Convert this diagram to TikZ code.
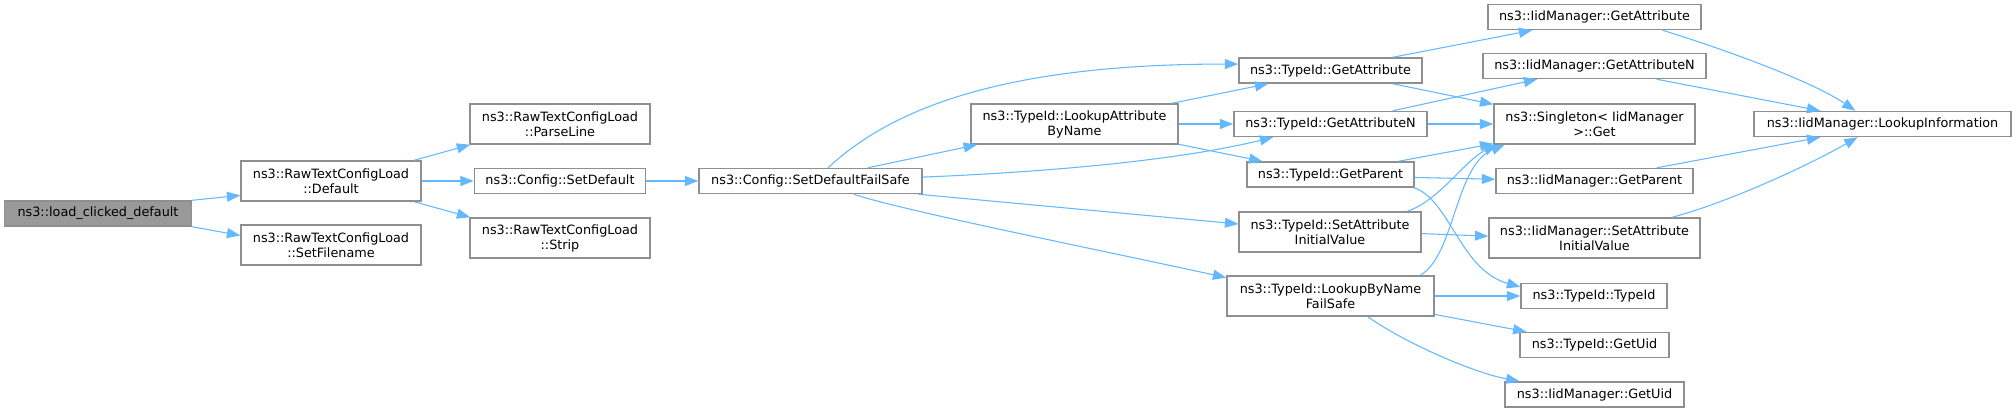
\documentclass[tikz,border=0pt]{standalone}
\usepackage{fontspec}
\setmainfont{DejaVu Sans}
\usetikzlibrary{arrows.meta}
\definecolor{edgeblue}{HTML}{63B8FF}
\definecolor{boxgray}{HTML}{8F8F8F}
\definecolor{rootgray}{HTML}{999999}

\begin{document}
\begin{tikzpicture}[x=0.75pt, y=-0.75pt,
    fn/.style={draw=boxgray, fill=white, line width=1.1pt, minimum height=18.75pt,
      inner xsep=1pt, inner ysep=1pt, align=center, font=\fontsize{9.6}{11.25}\selectfont},
    fntwo/.style={fn, minimum height=30pt},
    calls/.style={draw=edgeblue, line width=0.8pt, -{Triangle[length=10pt,width=7.5pt]}}]
  \useasboundingbox (0,0) rectangle (2016,412);

  \node[fn, fill=rootgray, minimum width=140.25pt] (load) at (98,213.5) {ns3::load\_clicked\_default};
  \node[fntwo, minimum width=135pt] (dflt) at (331,181) {ns3::RawTextConfigLoad\\::Default};
  \node[fntwo, minimum width=135pt] (setfile) at (331,245) {ns3::RawTextConfigLoad\\::SetFilename};
  \node[fntwo, minimum width=135pt] (parse) at (560,124) {ns3::RawTextConfigLoad\\::ParseLine};
  \node[fn, minimum width=128.25pt] (setdef) at (560,181) {ns3::Config::SetDefault};
  \node[fntwo, minimum width=135pt] (strip) at (560,238) {ns3::RawTextConfigLoad\\::Strip};
  \node[fn, minimum width=167.25pt] (failsafe) at (810.5,181) {ns3::Config::SetDefaultFailSafe};
  \node[fntwo, minimum width=155.25pt] (lookattr) at (1074.5,124) {ns3::TypeId::LookupAttribute\\ByName};
  \node[fn, minimum width=137.25pt] (getattr) at (1330.5,70.5) {ns3::TypeId::GetAttribute};
  \node[fn, minimum width=144.75pt] (getattrn) at (1330.5,124) {ns3::TypeId::GetAttributeN};
  \node[fn, minimum width=125.25pt] (getpar) at (1330.5,174.5) {ns3::TypeId::GetParent};
  \node[fntwo, minimum width=136.5pt] (setinit) at (1330,232) {ns3::TypeId::SetAttribute\\InitialValue};
  \node[fntwo, minimum width=155.25pt] (lookname) at (1330.5,296) {ns3::TypeId::LookupByName\\FailSafe};
  \node[fn, minimum width=159.75pt] (iidattr) at (1594.5,17) {ns3::IidManager::GetAttribute};
  \node[fn, minimum width=167.25pt] (iidattrn) at (1594.5,66) {ns3::IidManager::GetAttributeN};
  \node[fntwo, minimum width=150.75pt] (single) at (1594.5,124) {ns3::Singleton< IidManager\\>::Get};
  \node[fn, minimum width=147.75pt] (iidpar) at (1594.5,181) {ns3::IidManager::GetParent};
  \node[fntwo, minimum width=158.25pt] (iidinit) at (1594.5,238) {ns3::IidManager::SetAttribute\\InitialValue};
  \node[fn, minimum width=109.5pt] (typeid) at (1594,296) {ns3::TypeId::TypeId};
  \node[fn, minimum width=111.75pt] (getuid) at (1594.5,345) {ns3::TypeId::GetUid};
  \node[fn, minimum width=134.25pt] (iiduid) at (1594.5,394.5) {ns3::IidManager::GetUid};
  \node[fn, minimum width=192.75pt] (lookinfo) at (1882.5,124) {ns3::IidManager::LookupInformation};

  % calls
  \draw[calls] (load.8) -- (dflt.189);
  \draw[calls] (load.-8) -- (setfile.174);
  \draw[calls] (dflt.14) -- (parse.193);
  \draw[calls] (dflt.east) -- (setdef.west);
  \draw[calls] (dflt.-14) -- (strip.167);
  \draw[calls] (setdef.east) -- (failsafe.west);
  \draw[calls] (failsafe.37) .. controls (890,110) and (1000,64) .. (getattr.176);
  \draw[calls] (failsafe.13) -- (lookattr.192);
  \draw[calls] (failsafe.2) .. controls (1050,172) and (1180,160) .. (getattrn.193);
  \draw[calls] (failsafe.-7) -- (setinit.175);
  \draw[calls] (failsafe.-17) .. controls (900,210) and (1100,250) .. (lookname.170);
  \draw[calls] (lookattr.12) -- (getattr.192);
  \draw[calls] (lookattr.east) -- (getattrn.west);
  \draw[calls] (lookattr.-11) -- (getpar.169);
  \draw[calls] (getattr.12) -- (iidattr.192);
  \draw[calls] (getattr.-12) -- (single.169);
  \draw[calls] (getattrn.12) -- (iidattrn.193);
  \draw[calls] (getattrn.east) -- (single.west);
  \draw[calls] (getpar.11) -- (single.191);
  \draw[calls] (getpar.-2) -- (iidpar.179);
  \draw[calls] (getpar.-9) .. controls (1450,200) and (1460,270) .. (typeid.173);
  \draw[calls] (setinit.15) .. controls (1440,200) and (1465,160) .. (single.192);
  \draw[calls] (setinit.-1) -- (iidinit.179);
  \draw[calls] (lookname.13) .. controls (1455,255) and (1455,165) .. (single.193);
  \draw[calls] (lookname.east) -- (typeid.west);
  \draw[calls] (lookname.-10) -- (getuid.169);
  \draw[calls] (lookname.-29) .. controls (1400,340) and (1470,372) .. (iiduid.170);
  \draw[calls] (iidattr.-11) .. controls (1720,48) and (1810,80) .. (lookinfo.154);
  \draw[calls] (iidattrn.-12) -- (lookinfo.168);
  \draw[calls] (iidpar.12) -- (lookinfo.192);
  \draw[calls] (iidinit.15) .. controls (1720,205) and (1800,170) .. (lookinfo.208);
\end{tikzpicture}
\end{document}
